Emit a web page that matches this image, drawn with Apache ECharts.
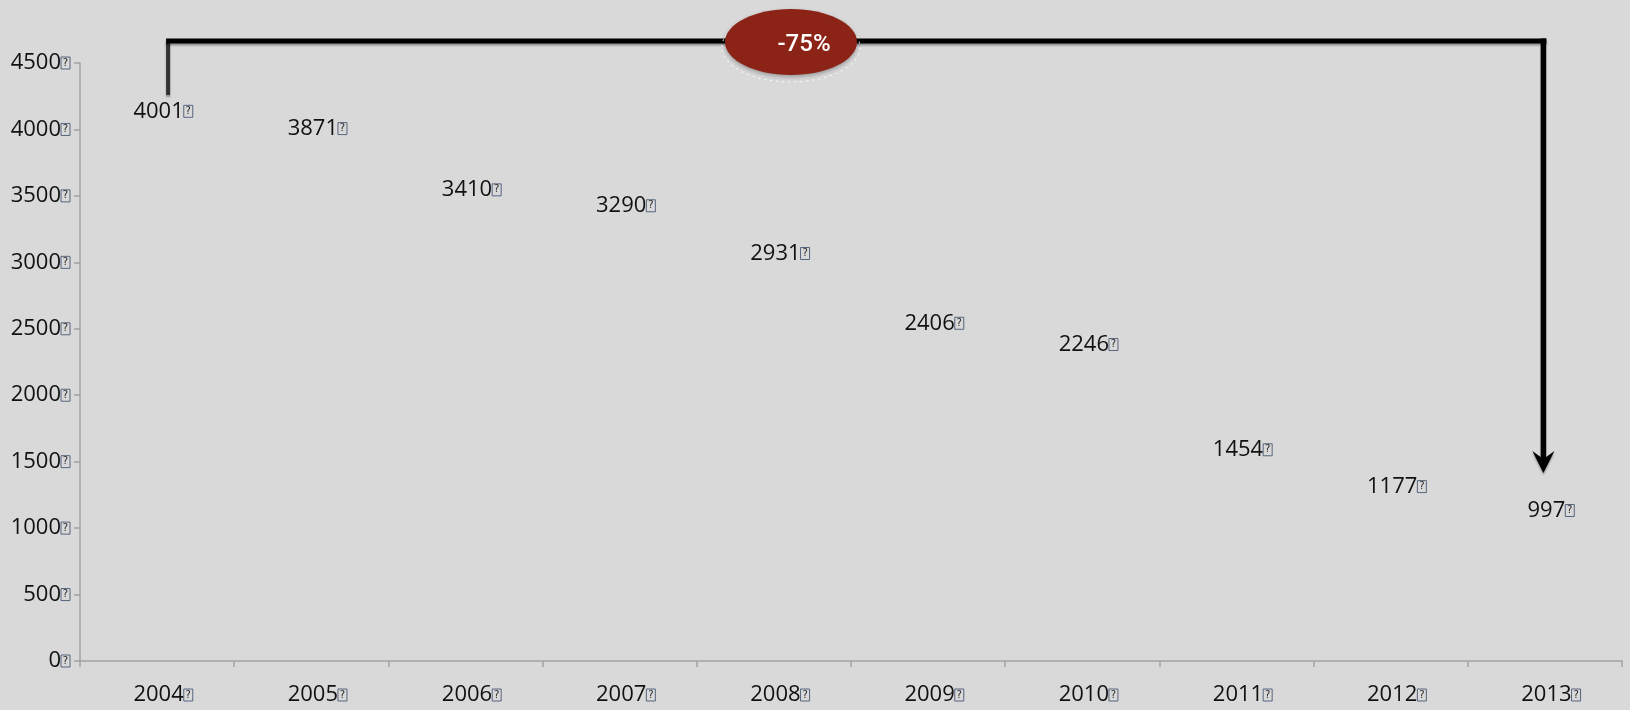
<!DOCTYPE html>
<html>
<head>
<meta charset="utf-8">
<script src="https://cdn.jsdelivr.net/npm/echarts@6/dist/echarts.min.js"></script>
<style>
  html, body { margin: 0; padding: 0; background: #d9d9d9; }
  #chart { width: 1630px; height: 710px; }
</style>
</head>
<body>
<div id="chart"></div>
<script>
// Yearly totals, 2004-2013
const years = ['2004', '2005', '2006', '2007', '2008', '2009', '2010', '2011', '2012', '2013'];
const totals = [4001, 3871, 3410, 3290, 2931, 2406, 2246, 1454, 1177, 997];
const yTicks = [0, 500, 1000, 1500, 2000, 2500, 3000, 3500, 4000, 4500];
const changeLabel = '-75%';

const FONT = '"Open Sans", "Liberation Sans", sans-serif';
const TEXT = '#111111';

// trailing "missing glyph" box shown after every number
const boxStyle = {
  fontSize: 10, fontFamily: 'DejaVu Sans', color: '#2a2a2a',
  borderColor: '#56657f', borderWidth: 1,
  width: 9, height: 12, lineHeight: 12, align: 'center'
};
const numStyle = { fontSize: 22, fontFamily: FONT, color: TEXT };
const withBox = v => '{v|' + v + '}{q|?}';

const chart = echarts.init(document.getElementById('chart'), null, { renderer: 'canvas' });

chart.setOption({
  backgroundColor: '#d9d9d9',
  animation: false,
  grid: { left: 80, right: 8, top: 63, bottom: 49, containLabel: false, outerBoundsMode: 'none' },
  xAxis: {
    type: 'category',
    data: years,
    boundaryGap: true,
    axisLine: { lineStyle: { color: '#a3a3a3', width: 1.5 } },
    axisTick: { show: true, length: 6, alignWithLabel: false, lineStyle: { color: '#a3a3a3', width: 1.5 } },
    axisLabel: {
      margin: 23,
      color: TEXT,
      formatter: withBox,
      padding: [0, 0, 0, 12],
      rich: { v: numStyle, q: boxStyle }
    }
  },
  yAxis: {
    type: 'value',
    min: 0, max: 4500, interval: 500,
    splitLine: { show: false },
    axisLine: { show: true, lineStyle: { color: '#a3a3a3', width: 1.5 } },
    axisTick: { show: true, length: 6, lineStyle: { color: '#a3a3a3', width: 1.5 } },
    axisLabel: {
      margin: 10,
      color: TEXT,
      formatter: v => yTicks.includes(v) ? withBox(v) : '',
      rich: { v: numStyle, q: boxStyle }
    }
  },
  series: [{
    type: 'scatter',
    data: totals,
    symbolSize: 2,
    itemStyle: { color: 'rgba(217,217,217,0)', opacity: 1 },
    label: {
      show: true,
      position: 'top',
      distance: 6,
      color: TEXT,
      opacity: 1,
      padding: [0, 0, 0, 12],
      formatter: p => withBox(p.value),
      rich: { v: numStyle, q: boxStyle }
    },
    emphasis: { disabled: true }
  }]
});

// bracket annotation: from the first year over to the last, arrow pointing down
const x0 = chart.convertToPixel({ xAxisIndex: 0 }, years[0]) + 11;
const x1 = chart.convertToPixel({ xAxisIndex: 0 }, years[years.length - 1]) - 1.5;
const yBar = 41;
const tipY = 473;
const shadow = { shadowColor: 'rgba(0,0,0,0.35)', shadowBlur: 2, shadowOffsetY: 2 };
const ex = 791, ey = 42;

chart.setOption({
  graphic: [
    { type: 'line', z: 10, shape: { x1: x0, y1: yBar, x2: x0, y2: 95 },
      style: Object.assign({ stroke: '#333', lineWidth: 4 }, shadow) },
    { type: 'line', z: 10, shape: { x1: x0 - 2, y1: yBar, x2: x1 + 3, y2: yBar },
      style: Object.assign({ stroke: '#000', lineWidth: 5 }, shadow) },
    { type: 'line', z: 10, shape: { x1: x1, y1: yBar - 2.5, x2: x1, y2: tipY - 14 },
      style: Object.assign({ stroke: '#000', lineWidth: 5.5 }, shadow) },
    { type: 'polygon', z: 10,
      shape: { points: [[x1 - 11, 451], [x1, 459], [x1 + 11, 451], [x1, tipY]] },
      style: Object.assign({ fill: '#000' }, shadow) },
    { type: 'ellipse', z: 11, shape: { cx: ex, cy: ey + 5, rx: 69, ry: 35 },
      style: { fill: 'none', stroke: 'rgba(255,255,255,0.75)', lineWidth: 1.2, lineDash: [2, 4] } },
    { type: 'ellipse', z: 12, shape: { cx: ex, cy: ey, rx: 66, ry: 33 },
      style: { fill: '#8b2316', shadowColor: 'rgba(0,0,0,0.3)', shadowBlur: 4, shadowOffsetY: 2 } },
    { type: 'text', z: 13, x: ex + 13, y: ey + 3,
      style: { text: changeLabel, fill: '#ffffff', font: '500 24px Roboto, "Open Sans", sans-serif',
               align: 'center', verticalAlign: 'middle' } }
  ]
});
</script>
</body>
</html>
